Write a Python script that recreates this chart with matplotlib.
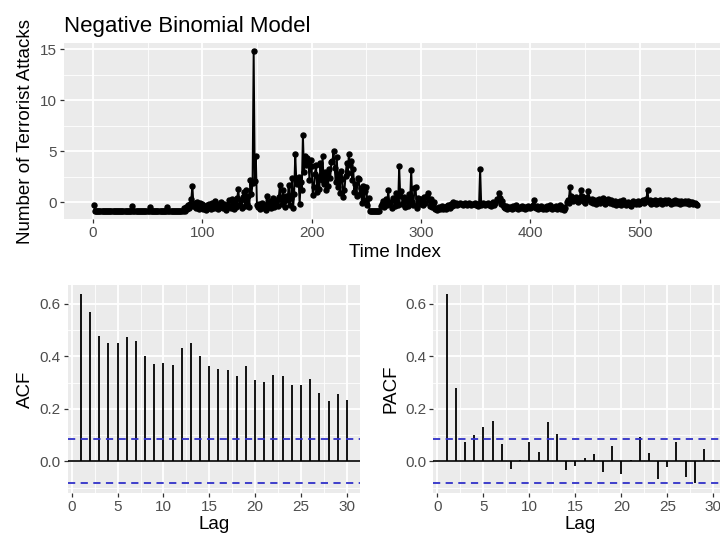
import numpy as np
import matplotlib
matplotlib.use("Agg")
import matplotlib.pyplot as plt
from matplotlib.ticker import MultipleLocator

plt.rcParams['font.family'] = ['Liberation Sans', 'DejaVu Sans']

# Pearson residuals of the negative binomial fit (index 1..552)
resid = [
    -0.3, -0.9, -0.9, -0.9, -0.9, -0.9, -0.9, -0.9, -0.9, -0.9, -0.9, -0.9, -0.9, -0.9, -0.9, -0.9, -0.9, -0.9, -0.9, -0.9,
    -0.9, -0.9, -0.9, -0.9, -0.9, -0.9, -0.9, -0.9, -0.9, -0.9, -0.9, -0.9, -0.9, -0.9, -0.9, -0.4, -0.9, -0.9, -0.9, -0.9,
    -0.9, -0.9, -0.9, -0.9, -0.9, -0.9, -0.9, -0.9, -0.9, -0.9, -0.9, -0.5, -0.9, -0.9, -0.9, -0.9, -0.9, -0.9, -0.9, -0.9,
    -0.9, -0.9, -0.9, -0.9, -0.9, -0.9, -0.9, -0.5, -0.9, -0.9, -0.9, -0.9, -0.9, -0.9, -0.9, -0.9, -0.9, -0.9, -0.9, -0.9,
    -0.9, -0.9, -0.6, -0.9, -0.5, -0.7, -0.3, -0.6, -0.2, 0.3, 1.6, -0.4, -0.1, -0.6, 0.0, -0.3, -0.7, -0.1, -0.5, -0.2,
    -0.7, -0.4, -0.8, -0.3, -0.6, -0.2, -0.5, -0.7, -0.1, -0.4, -0.6, 0.1, -0.3, -0.7, -0.2, -0.5, 0.0, -0.4, -0.6, -0.2,
    -0.5, -0.8, -0.3, 0.2, -0.4, -0.6, 0.3, -0.2, -0.7, 0.1, -0.5, 0.4, 1.3, -0.3, 0.2, -0.6, 0.5, 1.0, -0.4, 1.2,
    -0.2, 0.6, -0.5, 2.2, 0.8, 1.9, 14.8, 2.1, 4.5, -0.3, -0.5, -0.2, -0.7, -0.4, -0.1, -0.6, -0.3, -0.8, 0.6, -0.2,
    -0.5, 0.1, -0.6, -0.2, 0.4, -0.5, -0.1, 0.2, -0.4, 0.5, 1.7, 0.3, -0.2, 1.2, 0.1, -0.5, 0.6, 0.2, 1.7, -0.3,
    0.4, 2.4, -0.6, 0.8, 4.7, 2.1, 1.8, 2.5, -0.2, 2.0, 1.2, 6.6, 3.0, 4.5, 3.6, 4.3, 4.0, 2.2, 4.1, 3.5,
    0.7, 1.5, 2.8, 3.6, 1.0, 2.5, 1.3, 3.8, 2.2, 4.5, 1.8, 3.0, 1.2, 2.6, 1.6, 3.3, 2.4, 3.9, 4.0, 5.0,
    3.4, 2.0, 4.4, 1.5, 2.8, 0.9, 3.1, 2.3, 0.5, 1.2, 2.6, 3.8, 2.9, 4.7, 3.6, 4.0, 2.2, 3.3, 1.0, 1.8,
    0.6, 2.4, 2.3, 0.8, 1.4, -0.1, 1.6, 0.2, 1.1, 1.5, -0.3, 0.4, -0.9, -0.9, -0.9, -0.9, -0.9, -0.9, -0.9, -0.9,
    -0.9, -0.9, -0.4, -0.2, 0.1, -0.5, -0.1, 0.3, -0.3, 1.2, -0.2, 0.0, -0.6, 0.4, 0.2, -0.4, 0.9, 0.1, -0.3, 3.5,
    0.6, 1.1, -0.2, 0.5, -0.5, 0.3, 0.1, -0.4, 0.8, 0.2, 3.2, 0.0, -0.3, 1.4, 1.5, -0.6, 0.4, 0.2, -0.2, 0.3,
    0.1, -0.3, 0.5, -0.1, 0.6, 0.9, 0.2, -0.4, 0.3, -0.5, -0.2, 0.0, -0.7, -0.6, -0.8, -0.5, -0.7, -0.6, -0.4, -0.7,
    -0.6, -0.5, -0.7, -0.4, -0.3, -0.6, -0.2, -0.4, 0.0, -0.3, -0.2, -0.1, -0.3, -0.2, -0.2, -0.1, -0.2, -0.3, -0.2, -0.1,
    -0.2, -0.3, -0.2, -0.1, -0.2, -0.3, -0.2, -0.2, -0.1, -0.3, -0.2, -0.4, -0.2, 3.3, -0.3, -0.2, -0.1, -0.3, -0.2, -0.2,
    -0.1, -0.3, -0.2, -0.4, -0.2, 0.0, -0.3, -0.1, 0.3, 0.2, 0.9, 0.4, -0.2, 0.1, -0.3, -0.5, -0.6, -0.4, -0.7, -0.5,
    -0.6, -0.5, -0.7, -0.4, -0.6, -0.5, -0.3, -0.6, -0.7, -0.5, -0.6, -0.4, -0.6, -0.5, -0.7, -0.5, -0.6, -0.4, -0.5, -0.6,
    -0.5, -0.3, 0.2, -0.5, -0.6, -0.4, -0.7, -0.5, -0.6, -0.4, -0.7, -0.6, -0.5, -0.7, -0.4, -0.6, -0.5, -0.3, -0.6, -0.7,
    -0.5, -0.6, -0.4, -0.7, -0.5, -0.6, -0.3, -0.7, -0.6, -0.5, -0.8, -0.6, 0.0, 0.2, -0.1, 1.5, 0.6, 0.3, 0.1, 0.4,
    0.2, 0.5, 0.0, 0.3, 0.4, 1.2, 0.6, 0.1, 0.3, -0.1, 0.2, 0.5, 1.1, 0.2, 0.0, 0.3, -0.1, 0.2, 0.1, -0.2,
    0.2, 0.0, 0.3, -0.1, 0.2, 0.4, 0.1, -0.2, 0.2, 0.0, 0.3, 0.1, -0.1, 0.2, -0.2, 0.0, 0.1, -0.3, -0.1, 0.0,
    -0.2, 0.1, -0.3, 0.0, 0.2, -0.1, -0.3, -0.2, 0.0, -0.1, -0.3, -0.4, -0.2, 0.1, -0.1, -0.2, 0.0, 0.1, -0.2, -0.1,
    0.0, 0.1, 0.2, -0.1, 0.1, 0.3, 1.2, 0.0, 0.2, -0.2, 0.1, -0.1, 0.0, 0.2, -0.2, 0.1, -0.1, 0.2, 0.0, -0.2,
    0.1, 0.0, 0.2, -0.1, 0.0, 0.2, 0.1, -0.2, 0.0, 0.1, -0.1, 0.2, 0.0, -0.1, 0.1, 0.0, -0.2, 0.1, -0.1, 0.0,
    0.1, -0.1, 0.0, 0.1, -0.2, 0.0, -0.1, 0.0, -0.2, -0.1, -0.2, -0.3,
]

lags = list(range(1, 31))
acf_vals = [0.636, 0.569, 0.477, 0.451, 0.449, 0.473, 0.458, 0.403, 0.372, 0.375,
            0.366, 0.432, 0.451, 0.403, 0.365, 0.350, 0.347, 0.324, 0.362, 0.311,
            0.304, 0.329, 0.324, 0.290, 0.290, 0.315, 0.261, 0.229, 0.258, 0.233]
pacf_vals = [0.636, 0.280, 0.072, 0.102, 0.131, 0.153, 0.067, -0.029, 0.004, 0.072,
             0.034, 0.150, 0.104, -0.034, -0.019, 0.013, 0.028, -0.042, 0.060, -0.047,
             0.006, 0.093, 0.032, -0.066, -0.022, 0.074, -0.060, -0.083, 0.048, 0.005]
conf = 1.96 / np.sqrt(len(resid))

PANEL = "#EBEBEB"
TICKC = "#4D4D4D"


def gg_style(ax, xmaj, xmin, ymaj, ymin):
    ax.set_facecolor(PANEL)
    for s in ax.spines.values():
        s.set_visible(False)
    ax.xaxis.set_major_locator(MultipleLocator(xmaj))
    ax.xaxis.set_minor_locator(MultipleLocator(xmin))
    ax.yaxis.set_major_locator(MultipleLocator(ymaj))
    ax.yaxis.set_minor_locator(MultipleLocator(ymin))
    ax.grid(which="major", color="white", lw=1.3)
    ax.grid(which="minor", color="white", lw=0.6)
    ax.set_axisbelow(True)
    ax.tick_params(which="major", length=3, width=0.9, color="#333333",
                   labelcolor=TICKC, labelsize=11, pad=2)
    ax.tick_params(which="minor", length=0)


def expand(lo, hi):
    d = (hi - lo) * 0.05
    return lo - d, hi + d


fig = plt.figure(figsize=(7.2, 5.41), dpi=100)

# top: residual series
ax = fig.add_axes([0.0886, 0.5946, 0.921, 0.3253])
t = np.arange(1, len(resid) + 1)
ax.plot(t, resid, color="black", lw=1.4, marker="o", ms=3.6)
ax.set_xlim(expand(1, len(resid)))
ax.set_ylim(expand(min(resid), max(resid)))
gg_style(ax, 100, 50, 5, 2.5)
ax.set_xlabel("Time Index", fontsize=13.5, labelpad=3)
ax.set_ylabel("Number of Terrorist Attacks", fontsize=13.5, labelpad=4)
ax.set_title("Negative Binomial Model", fontsize=16, loc="left", pad=8)


def corr_panel(rect, vals, name):
    a = fig.add_axes(rect)
    a.vlines(lags, 0, vals, color="black", lw=1.3)
    a.axhline(0, color="black", lw=1.2)
    a.axhline(conf, color="#3030C8", lw=1.3, ls=(0, (4, 3)))
    a.axhline(-conf, color="#3030C8", lw=1.3, ls=(0, (4, 3)))
    a.set_xlim(expand(1, 30))
    a.set_ylim(expand(min(min(vals), -conf), max(vals)))
    gg_style(a, 5, 2.5, 0.2, 0.1)
    a.set_xlabel("Lag", fontsize=13.5, labelpad=2)
    a.set_ylabel(name, fontsize=13.5, labelpad=4)
    return a


corr_panel([0.0939, 0.0893, 0.4063, 0.384], acf_vals, "ACF")
corr_panel([0.6017, 0.0893, 0.4075, 0.384], pacf_vals, "PACF")

fig.savefig("out.png", dpi=100)
